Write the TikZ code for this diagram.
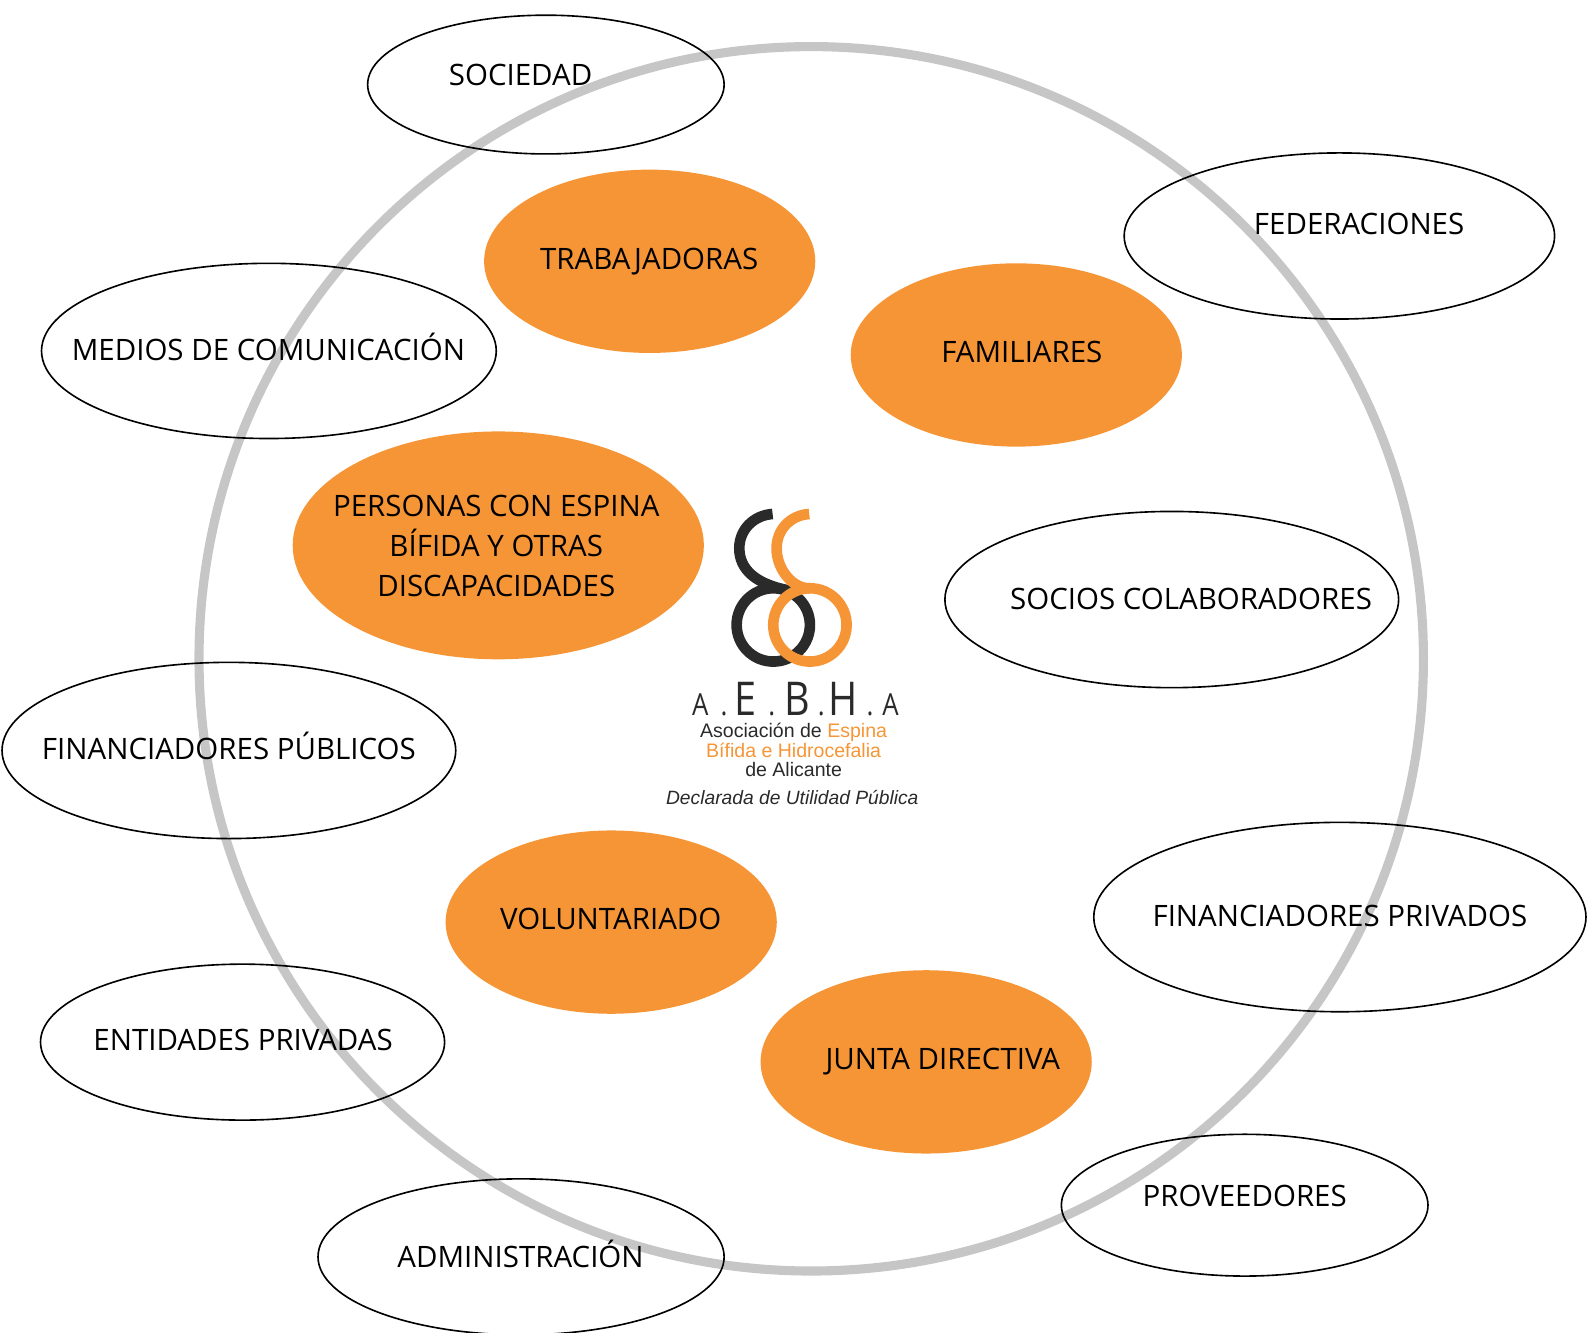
\documentclass[tikz,border=0pt]{standalone}
\usepackage{fontspec}
\setmainfont{Open Sans}
\newfontfamily\logofont{Liberation Sans}
\usetikzlibrary{shapes.geometric}
\definecolor{naranja}{HTML}{F69535}
\definecolor{aro}{HTML}{C6C6C6}
\definecolor{tinta}{HTML}{2B2A2B}
\tikzset{x=1pt, y=-1pt,
grupo/.style={ellipse, draw=black, line width=1.6pt, inner sep=0pt}, % outer ring of stakeholders
interno/.style={ellipse, fill=naranja, inner sep=0pt, minimum width=327pt, minimum height=181pt}, % inner groups
rotulo/.style={font=\fontsize{29.1}{39.5}\selectfont, align=center, inner sep=0pt}, % the texts
logotexto/.style={font=\logofont\fontsize{19.3}{20}\selectfont, text=tinta, inner sep=0pt}, % logo lines
logoletra/.style={font=\fontsize{#1}{#1}\selectfont, text=tinta, inner sep=0pt, anchor=base, xscale=0.85},
}

\begin{document}
\begin{tikzpicture}
    \useasboundingbox (0,0) rectangle (1568,1316);
    \node[circle, draw=aro, line width=9pt, minimum size=1209pt, inner sep=0pt] (aroexterior) at (801,650.5) {};

    % inner groups
    \node[interno] (trabajadoras) at (641.5,258) {};
    \node[interno] (familiares) at (1003.5,350.5) {};
    \node[interno, minimum width=406pt, minimum height=225pt] (personas) at (492,538.5) {};
    \node[interno] (voluntariado) at (603.5,910.5) {};
    \node[interno] (junta) at (914.5,1048.5) {};
    \node[rotulo] (ttrabajadoras) at (641,258) {TRABAJADORAS};
    \node[rotulo] (tfamiliares) at (1009,348) {FAMILIARES};
    \node[rotulo] (tpersonas) at (490,539.5) {PERSONAS CON ESPINA\\BÍFIDA Y OTRAS\\DISCAPACIDADES};
    \node[rotulo] (tvoluntariado) at (603,907) {VOLUNTARIADO};
    \node[rotulo] (tjunta) at (931,1048) {JUNTA DIRECTIVA};

    % outer ring
    \node[grupo, minimum width=352pt, minimum height=137pt] (sociedad) at (539,83.5) {};
    \node[grupo, minimum width=425pt, minimum height=164pt] (federaciones) at (1322.5,233) {};
    \node[grupo, minimum width=449pt, minimum height=173pt] (medios) at (265.5,346.5) {};
    \node[grupo, minimum width=448pt, minimum height=174pt] (publicos) at (226,741) {};
    \node[grupo, minimum width=448pt, minimum height=174pt] (socios) at (1157,592) {};
    \node[grupo, minimum width=486pt, minimum height=187pt] (privados) at (1323,905.5) {};
    \node[grupo, minimum width=399pt, minimum height=154pt] (entidades) at (239.5,1029) {};
    \node[grupo, minimum width=401pt, minimum height=154pt] (administracion) at (514.5,1241) {};
    \node[grupo, minimum width=362pt, minimum height=140pt] (proveedores) at (1229,1190) {};
    \node[rotulo] (tsociedad) at (514,74) {SOCIEDAD};
    \node[rotulo] (tfederaciones) at (1342,221) {FEDERACIONES};
    \node[rotulo] (tmedios) at (265,343) {MEDIOS DE COMUNICACIÓN};
    \node[rotulo] (tpublicos) at (226,737) {FINANCIADORES PÚBLICOS};
    \node[rotulo] (tsocios) at (1176,591) {SOCIOS COLABORADORES};
    \node[rotulo] (tprivados) at (1323,904) {FINANCIADORES PRIVADOS};
    \node[rotulo] (tentidades) at (240,1027) {ENTIDADES PRIVADAS};
    \node[rotulo] (tadministracion) at (514,1238) {ADMINISTRACIÓN};
    \node[rotulo] (tproveedores) at (1229,1181) {PROVEEDORES};

    % logo
    \begin{scope}[shift={(641.8,483.8)}, scale=0.329]
      \draw[tinta, line width=10.5pt] (370,405) circle (110);
      \draw[tinta, line width=10.5pt] (368,72) .. controls (310,76) and (268,120) .. (268,175)
        .. controls (268,240) and (320,285) .. (425,303);
      \draw[naranja, line width=10.5pt] (478,72) .. controls (420,76) and (380,120) .. (380,175)
        .. controls (380,240) and (430,297) .. (480,295);
      \draw[naranja, line width=10.5pt] (480,405) circle (110);
    \end{scope}
    \foreach \lx/\ly/\lsize/\ltxt/\lname in {691.5/706/30/A/a, 715/706/30/./b, 736.5/706/46/E/c, 762/706/30/./d, 787/706/46/B/e, 811/706/30/./f, 832.6/706/46/H/g, 859/706/30/./h, 879.3/706/30/A/i}
      \node[logoletra=\lsize] (logo\lname) at (\lx,\ly) {\ltxt};
    \node[logotexto] (logouno) at (783.6,723) {Asociación de \textcolor{naranja}{Espina}};
    \node[logotexto, text=naranja] (logodos) at (783.6,740.5) {Bífida e Hidrocefalia};
    \node[logotexto] (logotres) at (783.6,759.5) {de Alicante};
    \node[logotexto, font=\logofont\itshape\fontsize{19}{20}\selectfont] (logocuatro) at (782.3,787) {Declarada de Utilidad Pública};
  \end{tikzpicture}
\end{document}
